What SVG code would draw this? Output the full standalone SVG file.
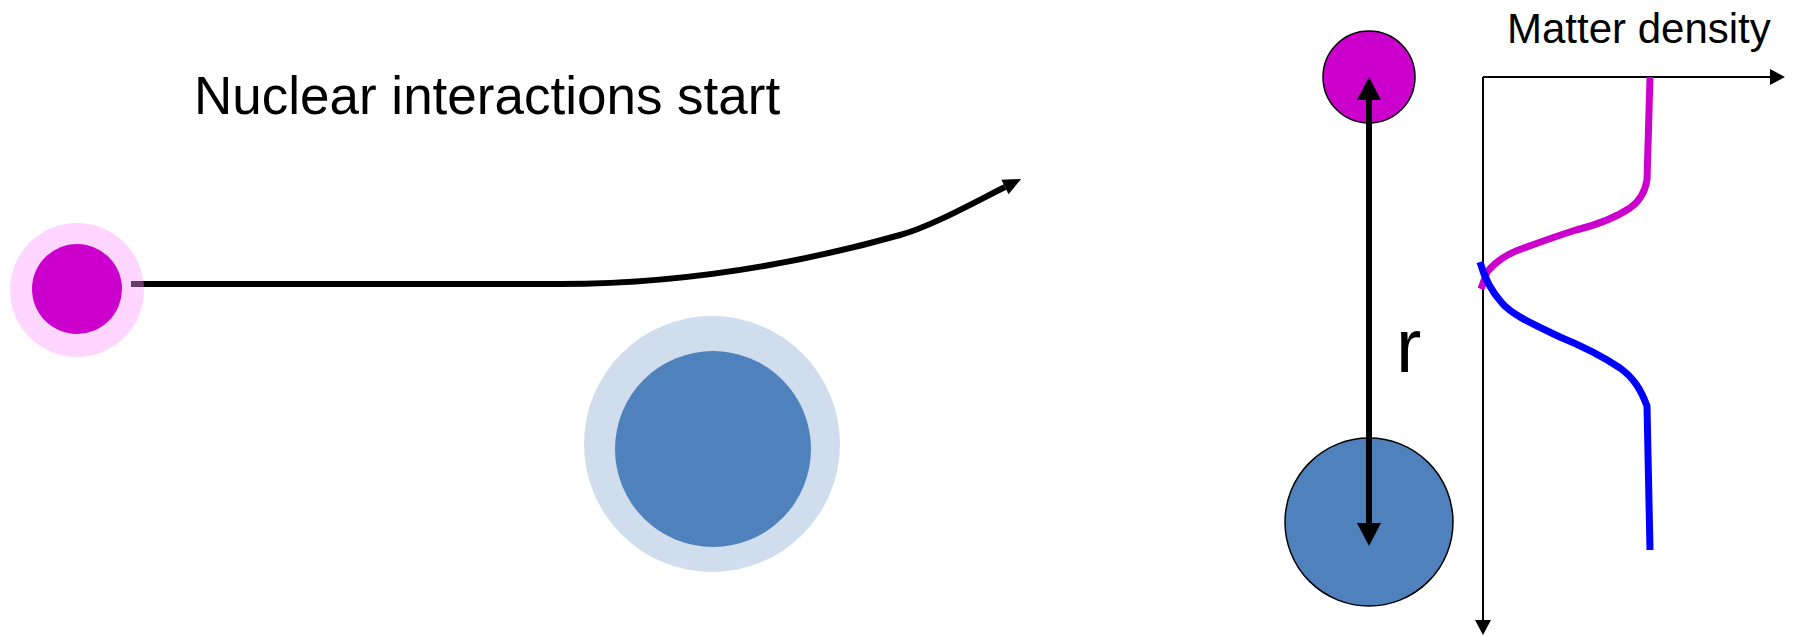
<svg xmlns="http://www.w3.org/2000/svg" width="1793" height="636" viewBox="0 0 1793 636">
  <style>
    .label { font-family: "Liberation Sans", Arial, sans-serif; fill: #000; }
    .conn { fill: none; stroke: #000; }
    .nucleus-p { fill: #CC00CC; }
    .nucleus-t { fill: #4F81BD; }
    .outlined { stroke: #000; stroke-width: 1.5; }
    .density { fill: none; stroke-width: 7; stroke-linejoin: round; }
  </style>
  <defs>
    <marker id="head-big" markerUnits="userSpaceOnUse" markerWidth="24" markerHeight="24" refX="0" refY="12" orient="auto-start-reverse" overflow="visible">
      <path d="M0,0 L23,12 L0,24 Z" fill="#000"/>
    </marker>
    <marker id="head-traj" markerUnits="userSpaceOnUse" markerWidth="18" markerHeight="16" refX="0" refY="8" orient="auto" overflow="visible">
      <path d="M0,0 L18,8 L0,16 Z" fill="#000"/>
    </marker>
    <marker id="head-axis" markerUnits="userSpaceOnUse" markerWidth="16" markerHeight="16" refX="0" refY="8" orient="auto" overflow="visible">
      <path d="M0,0 L15,8 L0,16 Z" fill="#000"/>
    </marker>
  </defs>

  <g id="title">
    <text class="label" x="194" y="114" font-size="53">Nuclear interactions start</text>
  </g>

  <!-- trajectory sits beneath the translucent halo of the projectile -->
  <g id="trajectory">
    <path class="conn" stroke-width="6" marker-end="url(#head-traj)"
          d="M131,284 L560,284 C680,284 790,266 900,235 C930,227 975,202 1005,187"/>
  </g>

  <g id="projectile">
    <circle cx="77" cy="290" r="67" fill="#FF99FF" fill-opacity="0.4"/>
    <circle class="nucleus-p" cx="77" cy="289" r="45"/>
  </g>

  <g id="target">
    <circle cx="712" cy="444" r="128" fill="#4F81BD" fill-opacity="0.27"/>
    <circle class="nucleus-t" cx="713" cy="449" r="98"/>
  </g>

  <g id="nucleus-top">
    <circle class="nucleus-p outlined" cx="1369" cy="77" r="46"/>
  </g>

  <g id="nucleus-bottom">
    <circle class="nucleus-t outlined" cx="1369" cy="522" r="84"/>
  </g>

  <g id="connectors">
    <!-- separation r between the two nuclei -->
    <line class="conn" stroke-width="6" x1="1369" y1="100" x2="1369" y2="523" marker-start="url(#head-big)" marker-end="url(#head-big)"/>
  </g>

  <g id="r-label">
    <text class="label" x="1396" y="372" font-size="76">r</text>
  </g>

  <g id="density-plot">
    <line class="conn" stroke-width="2" x1="1483" y1="77" x2="1770" y2="77" marker-end="url(#head-axis)"/>
    <line class="conn" stroke-width="2" x1="1483" y1="77" x2="1483" y2="620" marker-end="url(#head-axis)"/>
    <text class="label" x="1507" y="43" font-size="42">Matter density</text>
    <path class="density" stroke="#CC00CC"
          d="M1650,77 L1647,180 C1645,192 1640,201 1630,208 C1615,218 1592,226 1576,230 C1560,235 1532,245 1516,251 C1501,257 1493,265 1487,272 L1481,289"/>
    <path class="density" stroke="#0000FF"
          d="M1480,262 C1485,280 1492,292 1502,303 C1512,315 1535,325 1560,337 C1582,346 1602,356 1620,368 C1634,378 1641,390 1647,406 L1650,550"/>
  </g>
</svg>
